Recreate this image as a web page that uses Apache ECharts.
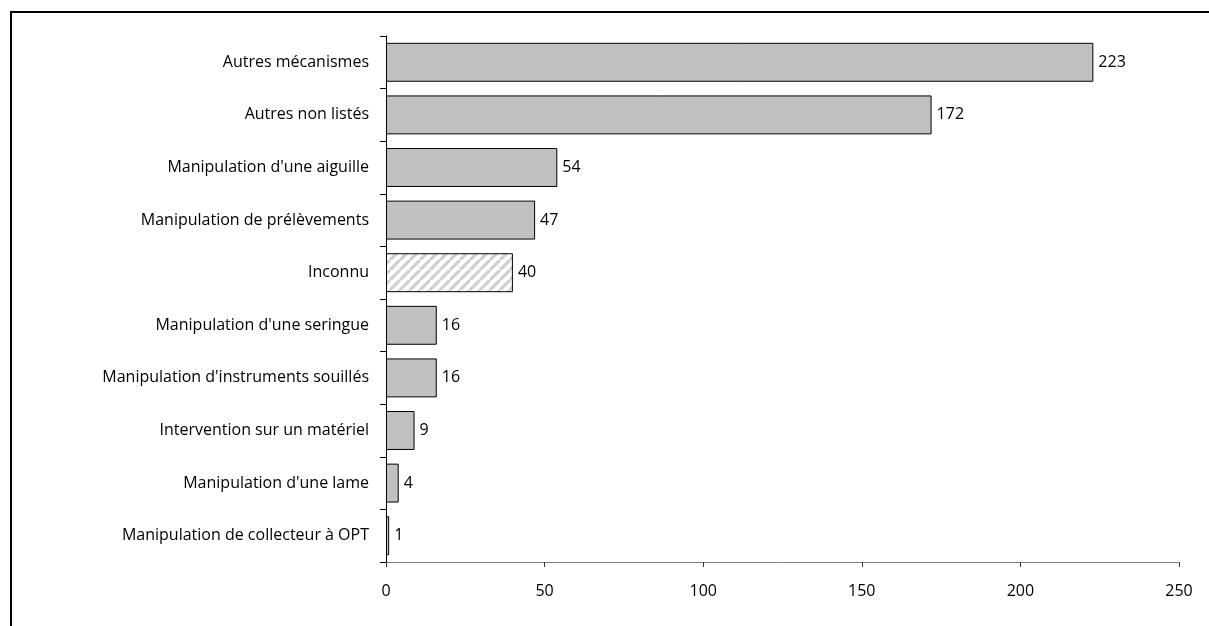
<!DOCTYPE html>
<html>
<head>
<meta charset="utf-8">
<style>
html,body{margin:0;padding:0;background:#fff;}
#chart{width:1209px;height:626px;}
</style>
<script src="https://cdn.jsdelivr.net/npm/echarts@6/dist/echarts.min.js"></script>
</head>
<body>
<div id="chart"></div>
<script>
// Data (top to bottom in the picture)
const categories = [
  "Autres mécanismes",
  "Autres non listés",
  "Manipulation d'une aiguille",
  "Manipulation de prélèvements",
  "Inconnu",
  "Manipulation d'une seringue",
  "Manipulation d'instruments souillés",
  "Intervention sur un matériel",
  "Manipulation d'une lame",
  "Manipulation de collecteur à OPT"
];
const values = [223, 172, 54, 47, 40, 16, 16, 9, 4, 1];
const hatchedCategory = "Inconnu";
const xTicks = [0, 50, 100, 150, 200, 250];

// hatch pattern
function makeHatch() {
  const c = document.createElement('canvas');
  const s = 10;
  c.width = s; c.height = s;
  const g = c.getContext('2d');
  g.fillStyle = '#ffffff';
  g.fillRect(0, 0, s, s);
  g.strokeStyle = '#cfcfcf';
  g.lineWidth = 3.2;
  g.beginPath();
  for (let k = -1; k <= 1; k++) {
    g.moveTo(k * s, s);
    g.lineTo(k * s + s, 0);
  }
  g.stroke();
  return c;
}
const hatch = makeHatch();

const cats = categories.slice().reverse();
const vals = values.slice().reverse();
const data = vals.map((v, i) => {
  const d = { value: v };
  if (cats[i] === hatchedCategory) {
    d.itemStyle = { color: { image: hatch, repeat: 'repeat' } };
  }
  return d;
});

const FONT = 'Open Sans';
const chart = echarts.init(document.getElementById('chart'), null, { renderer: 'canvas' });
chart.setOption({
  animation: false,
  backgroundColor: '#ffffff',
  grid: { left: 386, right: 30, top: 36, bottom: 64, containLabel: false },
  xAxis: {
    type: 'value',
    min: xTicks[0],
    max: xTicks[xTicks.length - 1],
    interval: 50,
    axisLine: { show: true, lineStyle: { color: '#808080', width: 1 } },
    axisTick: { show: true, length: 5, lineStyle: { color: '#333', width: 1 } },
    axisLabel: { color: '#000', fontFamily: FONT, fontSize: 16, margin: 21 },
    splitLine: { show: false }
  },
  yAxis: {
    type: 'category',
    data: cats,
    axisLine: { show: true, lineStyle: { color: '#000', width: 1 } },
    axisTick: { show: true, length: 6, lineStyle: { color: '#000', width: 1 } },
    axisLabel: { color: '#000', fontFamily: FONT, fontSize: 16, margin: 17, padding: [3, 0, 0, 0] },
    splitLine: { show: false }
  },
  series: [{
    type: 'bar',
    data: data,
    barWidth: '74%',
    itemStyle: { color: '#c0c0c0', borderColor: '#000', borderWidth: 1 },
    label: {
      show: true, position: 'right', distance: 5,
      color: '#000', fontFamily: FONT, fontSize: 16, padding: [3, 0, 0, 0]
    }
  }],
  graphic: [{
    type: 'rect',
    shape: { x: 11, y: 12, width: 1400, height: 800 },
    style: { fill: 'none', stroke: '#000', lineWidth: 2 },
    silent: true
  }]
});
</script>
</body>
</html>
